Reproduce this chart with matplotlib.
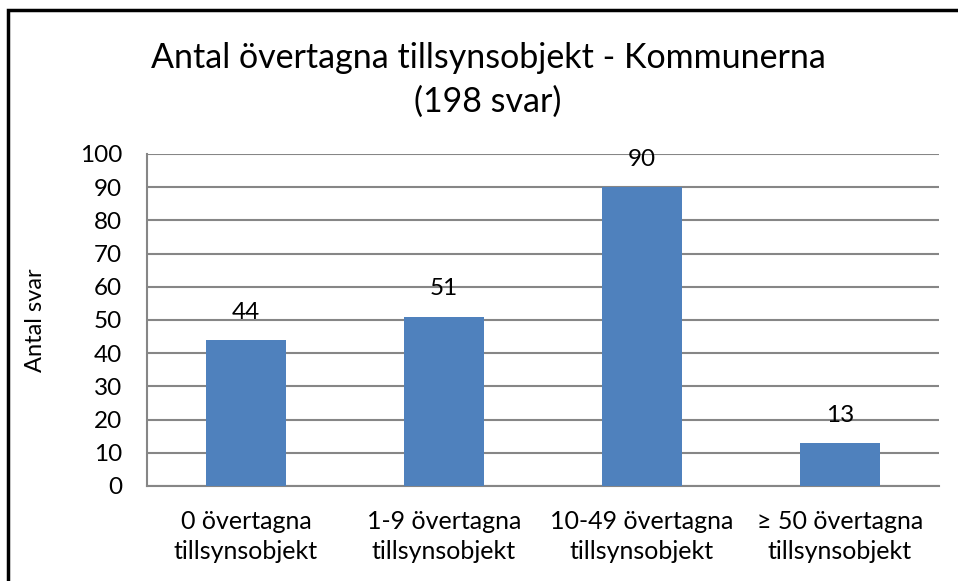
import matplotlib
matplotlib.use("Agg")
import matplotlib.pyplot as plt
from matplotlib.patches import Rectangle

categories = ["0 övertagna\ntillsynsobjekt", "1-9 övertagna\ntillsynsobjekt",
              "10-49 övertagna\ntillsynsobjekt", "≥ 50 övertagna\ntillsynsobjekt"]
values = [44, 51, 90, 13]
yticks = [0, 10, 20, 30, 40, 50, 60, 70, 80, 90, 100]
title = "Antal övertagna tillsynsobjekt - Kommunerna\n(198 svar)"
ylabel = "Antal svar"

plt.rcParams['font.family'] = ['Lato', 'DejaVu Sans']

W, H = 958, 581
fig = plt.figure(figsize=(W / 100, H / 100), dpi=100)
ax = fig.add_axes([147 / W, 1 - 486 / H, (939 - 147) / W, (486 - 154) / H])

x = range(len(categories))
ax.bar(x, values, width=0.4, color="#4F81BD", zorder=3)
ax.set_xlim(-0.5, len(categories) - 0.5)
ax.set_ylim(0, 100)
ax.set_yticks(yticks)
ax.set_yticklabels([str(t) for t in yticks], fontsize=17.5)
ax.set_xticks(list(x))
ax.set_xticklabels(categories, fontsize=18, linespacing=1.38)
ax.tick_params(axis='both', length=0)
ax.tick_params(axis='y', pad=18)
ax.tick_params(axis='x', pad=17)
ax.yaxis.grid(True, color="#868686", linewidth=1.5, zorder=0)
for s in ["top", "right"]:
    ax.spines[s].set_visible(False)
for s in ["left", "bottom"]:
    ax.spines[s].set_color("#868686")
    ax.spines[s].set_linewidth(1.5)

fig.text(35 / W, 1 - 320 / H, ylabel, rotation=90, ha="center", va="center", fontsize=17)

for xi, v in zip(x, values):
    ax.annotate(str(v), (xi, v), xytext=(0, 20), textcoords="offset points",
                ha="center", va="center", fontsize=17.5)

fig.text(488 / W, 1 - 80 / H, title, ha="center", va="center", fontsize=24.5,
         linespacing=1.42)

fig.patches.append(Rectangle((8 / W, -0.5), 2, 0.5 + 1 - 10 / H, transform=fig.transFigure,
                             fill=False, edgecolor="black", linewidth=2.5, clip_on=False))

fig.savefig("out.png", dpi=100)
